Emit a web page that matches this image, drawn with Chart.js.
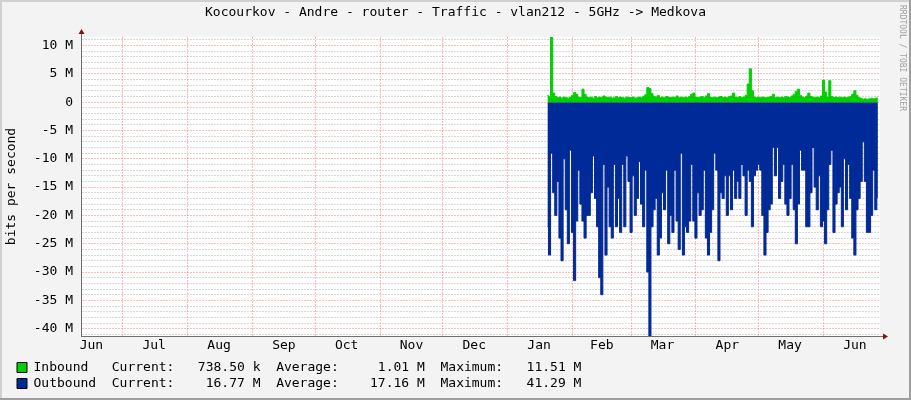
<!DOCTYPE html>
<html>
<head>
<meta charset="utf-8">
<title>Kocourkov - Andre - router - Traffic</title>
<script src="https://cdn.jsdelivr.net/npm/chart.js@4.4.1/dist/chart.umd.min.js"></script>
<style>
    html, body { margin: 0; padding: 0; background: #f3f3f3; }
    canvas { display: block; }
</style>
</head>
<body>
<canvas id="traffic-chart" width="911" height="400"></canvas>
<script>
// yearly traffic graph, one sample per day, values in Mbit/s

const CHART_TITLE = 'Kocourkov - Andre - router - Traffic - vlan212 - 5GHz -> Medkova';

// x axis counts days from the left edge of the graph (11 Jun)
const DAYS_SHOWN = 382;
const MONTH_NAMES = ['Jun', 'Jul', 'Aug', 'Sep', 'Oct', 'Nov', 'Dec', 'Jan', 'Feb', 'Mar', 'Apr', 'May', 'Jun'];
const MONTH_LABEL_DAYS = [5, 35, 66, 97, 127, 158, 188, 219, 249, 278, 309, 339, 370];
const MONTH_START_DAYS = [20, 51, 82, 112, 143, 173, 204, 235, 263, 294, 324, 355];

const Y_MIN = -41.29;
const Y_MAX = 11.51;
const Y_LABELS = [10, 5, 0, -5, -10, -15, -20, -25, -30, -35, -40];

// first day with samples (20 Jan)
const FIRST_SAMPLE_DAY = 223;

const inbound = [
    1.2, 1.0, 11.51, 1.6, 1.0, 0.8, 0.9, 0.7, 0.9, 0.8,
    0.7, 0.9, 1.2, 1.7, 1.4, 0.9, 0.8, 2.3, 1.4, 0.9,
    0.8, 0.9, 0.7, 1.0, 0.8, 0.9, 0.8, 1.1, 0.9, 0.8,
    0.9, 0.7, 0.8, 1.0, 0.8, 0.9, 0.8, 0.7, 0.9, 0.8,
    0.8, 0.9, 0.7, 0.8, 0.9, 0.8, 1.0, 1.3, 2.6, 2.4,
    1.5, 1.0, 0.9, 1.2, 0.8, 0.9, 0.8, 1.0, 0.9, 0.8,
    0.9, 0.8, 1.1, 0.8, 0.9, 0.8, 0.9, 0.8, 1.0, 1.4,
    1.6, 0.9, 0.8, 0.9, 1.0, 0.8, 1.1, 1.5, 0.9, 0.8,
    0.9, 0.8, 0.9, 1.0, 0.8, 0.9, 0.8, 1.0, 1.1, 1.6,
    0.9, 0.8, 1.0, 0.8, 0.9, 1.2, 3.2, 5.9, 2.0, 0.9,
    0.8, 0.9, 0.8, 0.9, 0.8, 0.8, 0.9, 1.0, 1.4, 0.8,
    0.9, 0.8, 0.9, 0.8, 1.0, 0.9, 0.8, 1.1, 1.4, 1.9,
    2.3, 1.2, 0.9, 0.8, 1.1, 1.6, 1.0, 0.9, 0.8, 0.9,
    0.8, 1.1, 3.9, 1.8, 0.9, 3.8, 1.0, 0.8, 0.9, 0.8,
    0.9, 0.8, 0.9, 0.8, 0.9, 1.0, 1.4, 2.0, 1.2, 0.8,
    0.7, 0.5, 0.6, 0.5, 0.6, 0.7, 0.6, 0.7, 0.74
];

// outbound is drawn below zero
const outbound = [
    -22, -27, -9, -16, -20, -14, -24, -28, -10, -19,
    -25, -8.5, -23, -31.5, -21, -12, -18, -21, -24, -20,
    -20, -16, -9.5, -17, -22, -31, -34, -11, -27, -15,
    -22, -24, -11, -22, -17, -23, -11, -22, -9.5, -14,
    -23, -13, -20, -17, -10.5, -18, -22, -12, -30, -41.29,
    -22, -19, -17,
    -27, -24, -16, -19, -12, -25, -20, -23, -12, -21,
    -26, -9, -27, -22, -23, -21, -11, -21, -24, -16,
    -20, -19, -12, -24, -27, -23, -19, -9, -12, -28,
    -16, -17, -13, -20, -13, -19, -12, -17, -14, -17,
    -11, -13, -20, -12, -14, -22, -13, -12, -11, -12,
    -20, -27,
    -23, -19, -18, -8, -13, -8, -17, -14, -11, -18,
    -20, -17, -11, -19, -25, -18, -8.5, -12, -12, -22,
    -22, -16, -8, -15, -19, -13, -22, -21, -25, -19,
    -11, -8.5, -23, -18, -16, -15, -22, -10, -19, -11,
    -17, -24, -27, -19, -17, -14, -7, -14, -23, -23,
    -20, -12, -19, -16.77
];

const SERIES_NAMES = ['Inbound', 'Outbound'];
const SERIES_COLORS = ['#00CF00', '#002A97'];
const CURRENT = ['738.50 k', '16.77 M'];
const AVERAGE = ['1.01 M', '17.16 M'];
const MAXIMUM = ['11.51 M', '41.29 M'];

const FONT = '"DejaVu Sans Mono", monospace';
const MAJOR_GRID = 'rgba(255, 40, 40, 0.32)';
const MINOR_GRID = 'rgba(130, 130, 130, 0.3)';
const AXIS_COLOR = '#6f6f6f';
const ARROW_COLOR = '#7f1414';

function toPoints(values) {
    return values.map((v, i) => ({ x: FIRST_SAMPLE_DAY + i, y: v }));
}

function legendLine(i) {
    return SERIES_NAMES[i].padEnd(10) + 'Current:' + CURRENT[i].padStart(11)
        + '  Average:' + AVERAGE[i].padStart(11)
        + '  Maximum:' + MAXIMUM[i].padStart(10);
}

const backdrop = {
    id: 'backdrop',
    beforeDraw(chart) {
        const { ctx, width, height, chartArea: a } = chart;
        ctx.save();
        ctx.fillStyle = '#f3f3f3';
        ctx.fillRect(0, 0, width, height);
        ctx.fillStyle = '#d0d0d0';
        ctx.fillRect(0, 0, width, 2);
        ctx.fillRect(0, 0, 2, height);
        ctx.fillStyle = '#9e9e9e';
        ctx.fillRect(0, height - 2, width, 2);
        ctx.fillRect(width - 2, 0, 2, height);
        ctx.fillStyle = '#ffffff';
        ctx.fillRect(a.left, a.top, a.right - a.left, a.bottom - a.top);
        ctx.restore();
    },
    afterDraw(chart) {
        const { ctx, width, chartArea: a } = chart;
        const x0 = Math.round(a.left) + 0.5;
        const y0 = Math.round(a.bottom) + 0.5;
        ctx.save();
        ctx.strokeStyle = AXIS_COLOR;
        ctx.lineWidth = 1;
        ctx.beginPath();
        ctx.moveTo(x0, a.top);
        ctx.lineTo(x0, a.top - 4);
        ctx.moveTo(a.right, y0);
        ctx.lineTo(a.right + 4, y0);
        ctx.stroke();

        ctx.fillStyle = ARROW_COLOR;
        ctx.beginPath();
        ctx.moveTo(x0, a.top - 8);
        ctx.lineTo(x0 - 3, a.top - 3);
        ctx.lineTo(x0 + 3, a.top - 3);
        ctx.closePath();
        ctx.fill();
        ctx.beginPath();
        ctx.moveTo(a.right + 8, y0);
        ctx.lineTo(a.right + 3, y0 - 3);
        ctx.lineTo(a.right + 3, y0 + 3);
        ctx.closePath();
        ctx.fill();

        // vertical watermark on the right edge
        ctx.translate(width - 9, 5);
        ctx.rotate(Math.PI / 2);
        ctx.fillStyle = '#a0a0a0';
        ctx.font = '8px ' + FONT;
        ctx.textBaseline = 'middle';
        ctx.fillText('RRDTOOL / TOBI OETIKER', 0, 0);
        ctx.restore();
    }
};

Chart.defaults.font.family = FONT;
Chart.defaults.font.size = 13;
Chart.defaults.color = '#000';

const yGridValues = [];
for (let v = Math.ceil(Y_MIN); v <= Math.floor(Y_MAX); v++) yGridValues.push(v);

const xTickValues = [...MONTH_START_DAYS, ...MONTH_LABEL_DAYS].sort((a, b) => a - b);

new Chart(document.getElementById('traffic-chart'), {
    type: 'line',
    data: {
        datasets: [
            {
                label: SERIES_NAMES[0],
                data: toPoints(inbound),
                borderColor: SERIES_COLORS[0],
                backgroundColor: SERIES_COLORS[0],
                borderWidth: 1,
                stepped: 'middle',
                fill: 'origin'
            },
            {
                label: SERIES_NAMES[1],
                data: toPoints(outbound),
                borderColor: SERIES_COLORS[1],
                backgroundColor: SERIES_COLORS[1],
                borderWidth: 1,
                stepped: 'middle',
                fill: 'origin'
            }
        ]
    },
    options: {
        responsive: false,
        animation: false,
        devicePixelRatio: 1,
        elements: {
            point: { radius: 0 },
            line: { tension: 0, borderJoinStyle: 'bevel' }
        },
        layout: { padding: { left: 14, right: 14, top: 0, bottom: 0 } },
        scales: {
            x: {
                type: 'linear',
                min: 0,
                max: DAYS_SHOWN,
                z: 1,
                afterBuildTicks: axis => { axis.ticks = xTickValues.map(v => ({ value: v })); },
                afterFit: axis => { axis.height = 22; },
                ticks: {
                    autoSkip: false,
                    maxRotation: 0,
                    padding: 2,
                    callback: v => {
                        const k = MONTH_LABEL_DAYS.indexOf(v);
                        return k >= 0 ? MONTH_NAMES[k] : '';
                    }
                },
                grid: {
                    drawTicks: false,
                    color: c => (c.tick && MONTH_START_DAYS.includes(c.tick.value)) ? MAJOR_GRID : 'transparent'
                },
                border: { color: AXIS_COLOR, dash: [2, 1] }
            },
            y: {
                type: 'linear',
                min: Y_MIN,
                max: Y_MAX,
                z: 1,
                afterBuildTicks: axis => { axis.ticks = yGridValues.map(v => ({ value: v })); },
                afterFit: axis => { axis.width = 67; },
                ticks: {
                    autoSkip: false,
                    padding: 8,
                    callback: v => {
                        if (!Y_LABELS.includes(v)) return '';
                        return v === 0 ? '0' : v + ' M';
                    }
                },
                grid: {
                    drawTicks: false,
                    color: c => (c.tick && Y_LABELS.includes(c.tick.value)) ? MAJOR_GRID : MINOR_GRID
                },
                border: { color: AXIS_COLOR, dash: [2, 1] },
                title: {
                    display: true,
                    text: 'bits per second',
                    padding: { top: -10, bottom: 0 }
                }
            },
            // keeps the plot clear of the watermark strip
            side: {
                position: 'right',
                display: true,
                afterFit: axis => { axis.width = 17; },
                ticks: { display: false },
                grid: { display: false },
                border: { display: false }
            }
        },
        plugins: {
            title: {
                display: true,
                text: CHART_TITLE,
                font: { size: 13, weight: 'normal' },
                padding: { top: 5, bottom: 16.4 }
            },
            legend: {
                position: 'bottom',
                align: 'start',
                onClick: null,
                labels: {
                    boxWidth: 10,
                    boxHeight: 10,
                    padding: 3,
                    generateLabels: chart => chart.data.datasets.map((ds, i) => ({
                        text: legendLine(i),
                        fillStyle: ds.backgroundColor,
                        strokeStyle: '#000',
                        lineWidth: 1,
                        hidden: false,
                        datasetIndex: i
                    }))
                }
            },
            tooltip: { enabled: false }
        }
    },
    plugins: [backdrop]
});
</script>
</body>
</html>
